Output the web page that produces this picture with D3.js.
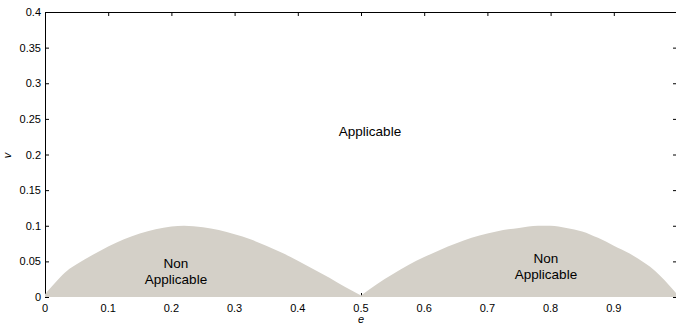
<!DOCTYPE html>
<html>
<head>
<meta charset="utf-8">
<script src="https://cdn.jsdelivr.net/npm/d3@7"></script>
<style>
  html, body { margin: 0; padding: 0; background: #fff; }
  svg { display: block; font-family: "Liberation Sans", Arial, sans-serif; }
</style>
</head>
<body>
<svg id="chart" width="676" height="326"></svg>
<script>
// Boundary of the non-applicable region, v as a function of e
const leftE  = [0, 0.01, 0.02, 0.035, 0.05, 0.075, 0.1, 0.125, 0.15, 0.175, 0.2, 0.22, 0.25, 0.275, 0.3, 0.325, 0.35, 0.375, 0.4, 0.425, 0.45, 0.475, 0.5];
const leftV  = [0.004, 0.014, 0.024, 0.037, 0.046, 0.059, 0.071, 0.081, 0.089, 0.095, 0.099, 0.1, 0.098, 0.094, 0.088, 0.081, 0.072, 0.062, 0.051, 0.039, 0.027, 0.014, 0.002];
const rightE = [0.5, 0.525, 0.55, 0.575, 0.6, 0.625, 0.65, 0.675, 0.7, 0.725, 0.75, 0.78, 0.8, 0.825, 0.85, 0.875, 0.9, 0.925, 0.95, 0.965, 0.98, 0.99, 1.0];
const rightV = [0.002, 0.018, 0.032, 0.045, 0.056, 0.066, 0.075, 0.083, 0.089, 0.094, 0.097, 0.1, 0.1, 0.097, 0.092, 0.083, 0.072, 0.061, 0.047, 0.037, 0.024, 0.014, 0.004];

const xTicks = [0, 0.1, 0.2, 0.3, 0.4, 0.5, 0.6, 0.7, 0.8, 0.9];
const yTicks = [0, 0.05, 0.1, 0.15, 0.2, 0.25, 0.3, 0.35, 0.4];

const svg = d3.select("#chart");
const x = d3.scaleLinear().domain([0, 1]).range([45, 677]);
const y = d3.scaleLinear().domain([0, 0.4]).range([297, 12]);
const tickLen = 4;
const fmt = d => d === 0 ? "0" : String(d);

// Inward ticks on all four sides
const frame = svg.append("g");
frame.append("g")
  .attr("transform", `translate(0,${y(0)})`)
  .call(d3.axisTop(x).tickValues(xTicks).tickSize(tickLen).tickFormat(""))
  .call(g => g.select(".domain").remove());
frame.append("g")
  .attr("transform", `translate(0,${y(0.4)})`)
  .call(d3.axisBottom(x).tickValues(xTicks).tickSize(tickLen).tickFormat("").tickSizeOuter(0))
  .call(g => g.select(".domain").attr("d", `M${x(0)},0.5H676`));
frame.append("g")
  .attr("transform", `translate(${x(0)},0)`)
  .call(d3.axisRight(y).tickValues(yTicks).tickSize(tickLen).tickFormat("").tickSizeOuter(0))
  .call(g => g.select(".domain").attr("d", `M0.5,${y(0.4)}V${y(0)}`));
frame.append("g")
  .attr("transform", `translate(${x(1)},0)`)
  .call(d3.axisLeft(y).tickValues(yTicks).tickSize(tickLen).tickFormat("").tickSizeOuter(0));
frame.selectAll("line, path").attr("stroke", "#000");

// Filled non-applicable regions
const area = d3.area()
  .curve(d3.curveMonotoneX)
  .x(d => x(d[0]))
  .y0(y(0))
  .y1(d => y(d[1]));
const fill = "#d4d0c8";
svg.append("path").datum(d3.zip(leftE, leftV)).attr("d", area).attr("fill", fill);
svg.append("path").datum(d3.zip(rightE, rightV)).attr("d", area).attr("fill", fill);

// Tick labels
svg.append("g").selectAll("text").data(xTicks).join("text")
  .attr("x", d => x(d)).attr("y", 312)
  .attr("text-anchor", "middle").attr("font-size", 11).attr("fill", "#000")
  .text(fmt);
svg.append("g").selectAll("text").data(yTicks).join("text")
  .attr("x", 41).attr("y", d => y(d) + 4)
  .attr("text-anchor", "end").attr("font-size", 11).attr("fill", "#000")
  .text(fmt);

// Axis titles
svg.append("text").attr("x", x(0.5)).attr("y", 323)
  .attr("text-anchor", "middle").attr("font-size", 11).attr("font-style", "italic")
  .text("e");
svg.append("text")
  .attr("transform", `translate(11,${y(0.2) + 1}) rotate(-90)`)
  .attr("text-anchor", "middle").attr("font-size", 11).attr("font-style", "italic")
  .text("v");

// Region labels
const lab = (cx, cy, lines) => {
  const t = svg.append("text").attr("text-anchor", "middle").attr("font-size", 13.5).attr("fill", "#000");
  lines.forEach((s, i) => t.append("tspan").attr("x", cx).attr("y", cy + i * 15.5).text(s));
};
lab(370, 136, ["Applicable"]);
lab(176, 268, ["Non", "Applicable"]);
lab(546, 263, ["Non", "Applicable"]);
</script>
</body>
</html>
